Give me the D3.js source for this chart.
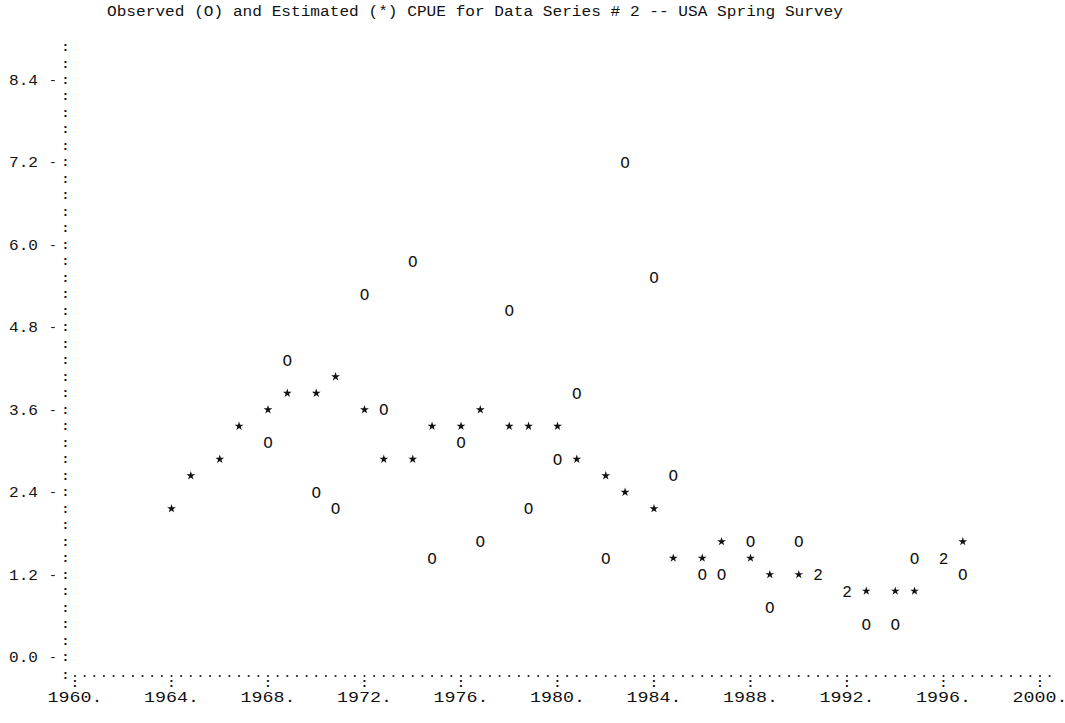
<!DOCTYPE html>
<html>
<head>
<meta charset="utf-8">
<script src="https://cdn.jsdelivr.net/npm/d3@7"></script>
<style>
  html, body { margin: 0; padding: 0; background: #fff; }
  svg text { font-family: "Liberation Mono", "DejaVu Sans Mono", monospace; fill: #111; }
</style>
</head>
<body>
<svg id="chart" width="1065" height="723"></svg>
<script>
const title = "Observed (O) and Estimated (*) CPUE for Data Series # 2 -- USA Spring Survey";
const years = [1964,1965,1966,1967,1968,1969,1970,1971,1972,1973,1974,1975,1976,1977,1978,1979,1980,
               1981,1982,1983,1984,1985,1986,1987,1988,1989,1990,1991,1992,1993,1994,1995,1996,1997];
const estimated = [2.16,2.64,2.88,3.36,3.60,3.84,3.84,4.08,3.60,2.88,2.88,3.36,3.36,3.60,3.36,3.36,3.36,
                   2.88,2.64,2.40,2.16,1.44,1.44,1.68,1.44,1.20,1.20,1.20,0.96,0.96,0.96,0.96,1.44,1.68];
const observed  = [null,null,null,null,3.12,4.32,2.40,2.16,5.28,3.60,5.76,1.44,3.12,1.68,5.04,2.16,2.88,
                   3.84,1.44,7.20,5.52,2.64,1.20,1.20,1.68,0.72,1.68,1.20,0.96,0.48,0.48,1.44,1.44,1.20];
const xTickLabels = [1960,1964,1968,1972,1976,1980,1984,1988,1992,1996,2000];
const yTickLabels = [0.0,1.2,2.4,3.6,4.8,6.0,7.2,8.4];

const svg = d3.select("#chart");
const x = d3.scaleLinear().domain([1960, 2000]).range([75, 1040]);
const y = d3.scaleLinear().domain([0, 8.4]).range([657, 80]);
const cw = (x(2000) - x(1960)) / 100;          // one printer column = 0.4 year
const rowStep = 0.24;                          // one printer row
const xAxisCol = x(1960) - cw;

// character-grid snapping (line-printer plot)
const colX = yr => x(1960) + Math.floor((yr - 1960) * 2.5 + 1e-9) * cw;
const rowY = v => y(Math.round(v / rowStep) * rowStep);

// title
svg.append("text").attr("x", 107).attr("y", 16).attr("font-size", 14)
  .attr("textLength", 736).attr("lengthAdjust", "spacingAndGlyphs").text(title);

// y axis colon column (rows 0 .. 37)
const rows = d3.range(0, 38);
svg.append("g").selectAll("text").data(rows).join("text")
  .attr("x", xAxisCol).attr("y", r => y(r * rowStep) + 4)
  .attr("text-anchor", "middle").attr("font-size", 13).attr("font-weight", "bold").text(":");

// y tick labels
const yl = svg.append("g");
yl.selectAll("text.lab").data(yTickLabels).join("text").attr("class", "lab")
  .attr("x", 9).attr("y", d => y(d) + 5).attr("font-size", 15)
  .attr("textLength", 29).attr("lengthAdjust", "spacingAndGlyphs")
  .text(d => d3.format(".1f")(d));
yl.selectAll("text.dash").data(yTickLabels).join("text").attr("class", "dash")
  .attr("x", 53).attr("y", d => y(d) + 4).attr("text-anchor", "middle").attr("font-size", 13).text("-");

// x axis dotted line
const axisY = 675;
svg.append("text").attr("x", xAxisCol).attr("y", axisY + 4).attr("text-anchor", "middle")
  .attr("font-size", 13).attr("font-weight", "bold").text(":");
svg.append("g").selectAll("circle").data(d3.range(0, 102)).join("circle")
  .attr("cx", k => x(1960) + k * cw).attr("cy", axisY + 1).attr("r", 1.1).attr("fill", "#222");

// x ticks and labels
const xl = svg.append("g");
xl.selectAll("text.tick").data(xTickLabels).join("text").attr("class", "tick")
  .attr("x", d => x(d)).attr("y", 687).attr("text-anchor", "middle").attr("font-size", 13)
  .attr("font-weight", "bold").text(":");
xl.selectAll("text.lab").data(xTickLabels).join("text").attr("class", "lab")
  .attr("x", d => x(d)).attr("y", 702).attr("text-anchor", "middle").attr("font-size", 15)
  .attr("textLength", 55).attr("lengthAdjust", "spacingAndGlyphs")
  .text(d => d + ".");

// points
const pts = years.map((yr, i) => ({ yr, est: estimated[i], obs: observed[i] }));
const both = pts.filter(d => d.obs != null && Math.round(d.obs / rowStep) === Math.round(d.est / rowStep));
const estOnly = pts.filter(d => !both.includes(d));
const obsOnly = pts.filter(d => d.obs != null && !both.includes(d));

const star = d3.symbol().type(d3.symbolStar).size(24);
svg.append("g").selectAll("path").data(estOnly).join("path")
  .attr("d", star).attr("fill", "#111")
  .attr("transform", d => `translate(${colX(d.yr)},${rowY(d.est)})`);

svg.append("g").selectAll("text").data(obsOnly).join("text")
  .attr("x", d => colX(d.yr)).attr("y", d => rowY(d.obs) + 5.5)
  .attr("text-anchor", "middle").attr("font-size", 16).text("O");

svg.append("g").selectAll("text").data(both).join("text")
  .attr("x", d => colX(d.yr)).attr("y", d => rowY(d.est) + 5.5)
  .attr("text-anchor", "middle").attr("font-size", 16).text("2");
</script>
</body>
</html>
